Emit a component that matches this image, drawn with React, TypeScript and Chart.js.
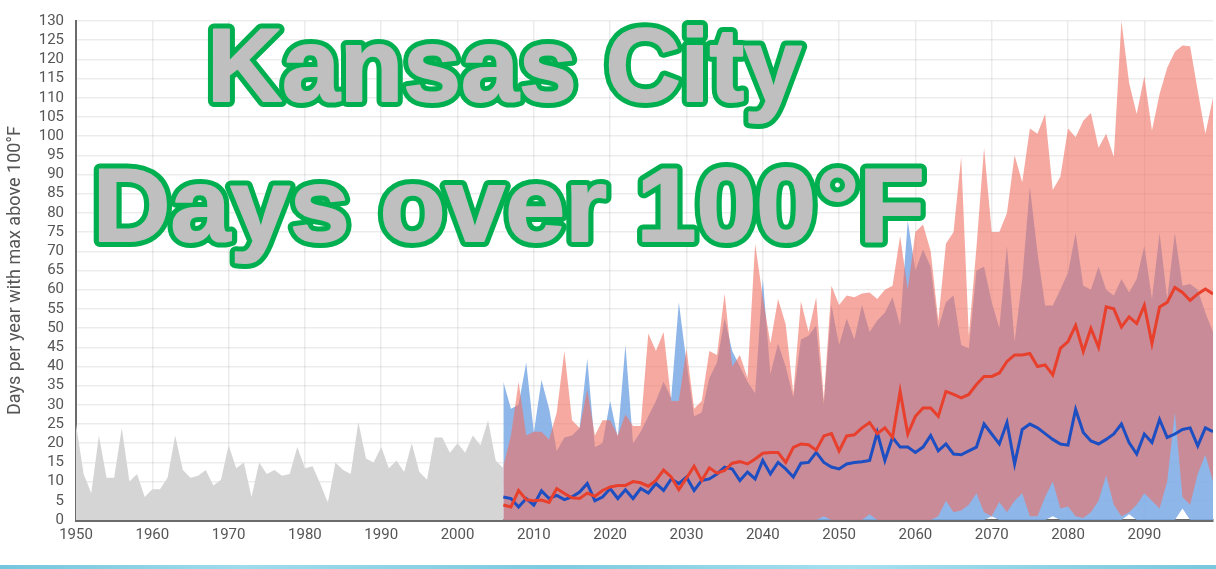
import React, { useEffect, useRef } from "react";
import { Chart, registerables } from "chart.js";

Chart.register(...registerables);

// ---------- data ----------
const HIST_START = 1950;
const PROJ_START = 2006;

// Observed days per year over 100°F, 1950-2006
const histDays = [
  25, 12, 7, 22, 11, 11, 24, 10, 12, 6,
  8, 8, 11, 22, 13, 11, 11.5, 13, 9, 10.5,
  19.5, 13.5, 15, 6, 15, 12, 13, 11.5, 12, 19,
  13.5, 14, 9.5, 4.5, 15, 13, 12, 25.5, 16, 15,
  19, 13.5, 15.5, 12.5, 20, 12.5, 10.5, 21.5, 21.5, 17.5,
  20, 17.5, 22, 19.5, 26, 15.5, 13.5,
];

// Higher emissions range (2006-2099)
const highUpper = [
  14, 22, 36, 22, 23, 23, 21, 28, 44, 26,
  24, 34, 22, 26, 26, 22, 27.5, 24.5, 24.5, 48.6,
  44, 49, 31, 31, 44.7, 29, 31, 44, 43, 59,
  40, 43, 37, 72, 58, 46, 57.6, 51, 33, 57,
  49, 58, 31.4, 61, 56, 58.5, 58, 59, 59.3, 57.6,
  60, 61, 74, 60, 75, 77, 70, 52, 72, 75,
  94.6, 48, 71, 97, 75, 75, 80, 95, 88, 102,
  100.6, 105.8, 86, 89.4, 102, 99.7, 104, 106, 97, 100.6,
  94.6, 130, 114, 105.8, 115.6, 101.5, 111, 117.8, 122, 123.6,
  123.4, 111.8, 100.6, 110,
];
const highLower = [
  0, 0, 0, 0, 0, 0, 0, 0, 0, 0,
  0, 0, 0, 0, 0, 0, 0, 0, 0, 0,
  0, 0, 0, 0, 0, 0, 0, 0, 0, 0,
  0, 0, 0, 0, 0, 0, 0, 0, 0, 0,
  0, 0, 1, 0, 0, 0, 0, 0, 1.5, 0,
  0, 0, 0, 0, 0, 0, 0, 1, 5, 2,
  2.5, 4, 7, 2, 1, 4.7, 2, 5, 7, 1,
  1, 6, 10, 3, 3.5, 1, 0.5, 2, 5, 11.6,
  4, 1, 2, 4, 7, 5, 3, 10, 28, 6,
  4, 12, 17, 10,
];
const highMedian = [
  3.9, 3.4, 7.7, 5.3, 5, 5.2, 4.6, 8.2, 6.9, 5.8,
  5.6, 7, 6.2, 7.7, 8.6, 9, 9, 10, 9.7, 8.8,
  10.3, 13, 11.2, 7.9, 10.9, 14, 10.3, 13.6, 12.2, 12.9,
  14.8, 15.2, 14.6, 15.9, 17.4, 17.6, 17.6, 15, 18.9, 19.8,
  19.6, 18.2, 21.9, 22.5, 18, 21.9, 22.2, 24, 25.4, 22.5,
  24, 21.5, 33.5, 22.4, 27, 29.2, 29.2, 27, 33.5, 32.7,
  31.8, 32.7, 35.3, 37.4, 37.4, 38.3, 41.3, 43, 43, 43.4,
  40, 40.4, 37.8, 44.7, 46.5, 50.7, 43.9, 49.9, 45, 55.5,
  55, 50.3, 52.9, 51.2, 55.9, 46, 55.5, 56.7, 60.6, 59.3,
  57.2, 58.9, 60.2, 58.9,
];

// Lower emissions range (2006-2099)
const lowUpper = [
  36, 29, 30, 41, 22.8, 36.5, 29, 18, 21.5, 22,
  24, 42, 19, 20, 31, 21.5, 45.6, 20, 23, 27,
  31, 36, 31.8, 56.7, 41, 27, 28, 37, 41, 52.5,
  44, 40, 36, 33, 63, 38, 46, 40, 32, 47,
  48, 50.7, 30, 56, 45.6, 52.5, 47, 56, 49, 52,
  54, 58, 50.7, 78, 65, 70.5, 66, 50, 56.7, 58.5,
  45.6, 44.7, 65, 66, 56.7, 50, 71.4, 46.4, 62.8, 86.8,
  69.6, 55.9, 55.9, 60, 64.5, 74.8, 61, 60, 66, 60,
  58.5, 62.8, 59.3, 62.8, 71.4, 57.6, 74.8, 57.6, 74.8, 61,
  61.5, 60, 54, 49,
];
const lowLower = [
  0, 0, 0, 0, 0, 0, 0, 0, 0, 0,
  0, 0, 0, 0, 0, 0, 0, 0, 0, 0,
  0, 0, 0, 0, 0, 0, 0, 0, 0, 0,
  0, 0, 0, 0, 0, 0, 0, 0, 0, 0,
  0, 0, 0, 0, 0, 0, 0, 0, 0, 0,
  0, 0, 0, 0, 0, 0, 0, 0, 0, 0,
  0, 0, 0, 0, 1, 0, 0, 0, 0, 0,
  0, 0, 1, 0, 0, 0, 0, 0, 0, 0,
  0, 0, 1.5, 0, 0, 0, 0, 0, 0, 3,
  0, 0, 0, 0,
];
const lowMedian = [
  6, 5.6, 3.4, 5.6, 3.9, 7.6, 5.6, 6.4, 5.3, 6,
  7.3, 9.5, 5, 6, 8.2, 5.6, 7.9, 5.6, 8.2, 7,
  9.5, 7.7, 10.7, 9.5, 11.2, 7.7, 10.3, 10.7, 12, 13.8,
  13.3, 10.3, 12.5, 10.7, 15.5, 12, 15, 13.3, 11.2, 14.8,
  15, 17.6, 15, 13.8, 13.3, 14.6, 15, 15.2, 15.5, 22.8,
  15.5, 21.5, 19, 19, 17.6, 19, 22, 18, 19.8, 17.2,
  17, 18, 19, 25, 22.4, 19.8, 25.4, 14.6, 23.6, 25,
  24, 22.5, 21, 19.8, 19.5, 28.8, 22.8, 20.6, 19.8, 21,
  22.4, 25, 20.2, 17.2, 22.4, 20.2, 26.2, 21.5, 22.4, 23.6,
  24, 19.3, 24, 23,
];

const X_MIN = 1950;
const X_MAX = 2099;
const X_STEP = 10;
const Y_MIN = 0;
const Y_MAX = 130;
const Y_STEP = 5;
const Y_TITLE = "Days per year with max above 100°F";

const TITLE_LINES = [
  { text: "Kansas City", left: 207, right: 808, bottom: 107 },
  { text: "Days over 100°F", left: 93, right: 927, bottom: 247 },
];

// ---------- helpers ----------
const toPoints = (start: number, arr: number[]) =>
  arr.map((v, i) => ({ x: start + i, y: v }));

const titlePlugin = {
  id: "bigTitle",
  afterDraw(chart: any) {
    const ctx = chart.ctx as CanvasRenderingContext2D;
    const green = 5; // visible outline width
    const bold = 1; // extra emboldening of the grey glyph (each side)
    const outer = green + bold;
    ctx.save();
    ctx.font = 'bold 104px "Liberation Sans", Arial, sans-serif';
    ctx.textBaseline = "alphabetic";
    ctx.textAlign = "left";
    ctx.lineJoin = "round";
    for (const line of TITLE_LINES) {
      const m = ctx.measureText(line.text);
      const glyphW = m.actualBoundingBoxLeft + m.actualBoundingBoxRight;
      const target = line.right - line.left - 2 * outer;
      const sx = target / glyphW;
      ctx.save();
      ctx.translate(line.left + outer, line.bottom - outer);
      ctx.scale(sx, 1);
      ctx.translate(m.actualBoundingBoxLeft, 0);
      // green outline
      ctx.strokeStyle = "#00b050";
      ctx.fillStyle = "#00b050";
      ctx.lineWidth = 2 * outer;
      ctx.strokeText(line.text, 0, 0);
      ctx.fillText(line.text, 0, 0);
      // grey body
      ctx.fillStyle = "#bfbfbf";
      ctx.strokeStyle = "#bfbfbf";
      ctx.lineWidth = 2 * bold;
      ctx.strokeText(line.text, 0, 0);
      ctx.fillText(line.text, 0, 0);
      ctx.restore();
    }
    ctx.restore();
  },
};

export default function App() {
  const canvasRef = useRef<HTMLCanvasElement | null>(null);

  useEffect(() => {
    if (!canvasRef.current) return;
    const tickFont = { family: "Roboto, 'Noto Sans', sans-serif", size: 15 };
    const gridColor = "rgba(0,0,0,0.075)";

    const chart = new Chart(canvasRef.current, {
      type: "line",
      data: {
        datasets: [
          {
            label: "Higher emissions median",
            data: toPoints(PROJ_START, highMedian),
            borderColor: "#e8402c",
            borderWidth: 3,
            pointRadius: 0,
            fill: false,
            order: 0,
          },
          {
            label: "Lower emissions median",
            data: toPoints(PROJ_START, lowMedian),
            borderColor: "#1d4fc2",
            borderWidth: 3,
            pointRadius: 0,
            fill: false,
            order: 1,
          },
          {
            label: "Higher emissions min",
            data: toPoints(PROJ_START, highLower),
            borderWidth: 0,
            borderColor: "rgba(0,0,0,0)",
            pointRadius: 0,
            fill: false,
            order: 2,
          },
          {
            label: "Higher emissions max",
            data: toPoints(PROJ_START, highUpper),
            borderWidth: 0,
            borderColor: "rgba(0,0,0,0)",
            backgroundColor: "rgba(238,112,96,0.6)",
            pointRadius: 0,
            fill: { target: 2 },
            order: 3,
          },
          {
            label: "Lower emissions min",
            data: toPoints(PROJ_START, lowLower),
            borderWidth: 0,
            borderColor: "rgba(0,0,0,0)",
            pointRadius: 0,
            fill: false,
            order: 4,
          },
          {
            label: "Lower emissions max",
            data: toPoints(PROJ_START, lowUpper),
            borderWidth: 0,
            borderColor: "rgba(0,0,0,0)",
            backgroundColor: "rgba(128,172,230,0.88)",
            pointRadius: 0,
            fill: { target: 4 },
            order: 5,
          },
          {
            label: "Observed",
            data: toPoints(HIST_START, histDays),
            borderWidth: 0,
            borderColor: "rgba(0,0,0,0)",
            backgroundColor: "rgb(213,213,213)",
            pointRadius: 0,
            fill: "origin",
            order: 6,
          },
        ],
      },
      options: {
        animation: false,
        responsive: true,
        maintainAspectRatio: false,
        events: [],
        layout: { padding: { top: 16, right: 3, left: 0, bottom: 0 } },
        elements: { line: { tension: 0 } },
        plugins: {
          legend: { display: false },
          tooltip: { enabled: false },
          title: { display: false },
        },
        scales: {
          x: {
            type: "linear",
            min: X_MIN,
            max: X_MAX,
            ticks: {
              stepSize: X_STEP,
              includeBounds: false,
              autoSkip: false,
              maxRotation: 0,
              padding: 6,
              color: "#555",
              font: tickFont,
              callback: (v: any) => String(v),
            },
            grid: { color: gridColor, lineWidth: 1.5, drawTicks: false },
            border: { display: true, color: "#6b6b6b", width: 3 },
            afterFit: (s: any) => {
              s.height = 49;
            },
          },
          y: {
            min: Y_MIN,
            max: Y_MAX,
            ticks: {
              stepSize: Y_STEP,
              autoSkip: false,
              padding: 12,
              color: "#555",
              font: tickFont,
            },
            grid: { color: gridColor, lineWidth: 1.5, drawTicks: false },
            border: { display: true, color: "#6b6b6b", width: 2 },
            title: {
              display: true,
              text: Y_TITLE,
              color: "#555",
              font: { family: "Roboto, 'Noto Sans', sans-serif", size: 18 },
              padding: { top: 5, bottom: 0 },
            },
            afterFit: (s: any) => {
              s.width = 76;
            },
          },
        },
      } as any,
      plugins: [titlePlugin],
    });
    return () => chart.destroy();
  }, []);

  return (
    <div
      style={{
        position: "fixed",
        left: 0,
        top: 0,
        width: 1216,
        height: 569,
        background: "#fff",
        overflow: "hidden",
      }}
    >
      <canvas ref={canvasRef} />
      <div
        style={{
          position: "absolute",
          left: 0,
          top: 565,
          width: 1216,
          height: 4,
          background:
            "linear-gradient(90deg, #74c6dd 0%, #9fdcec 20%, #7ccbe0 45%, #a6e0ee 70%, #78c8de 100%)",
        }}
      />
    </div>
  );
}
